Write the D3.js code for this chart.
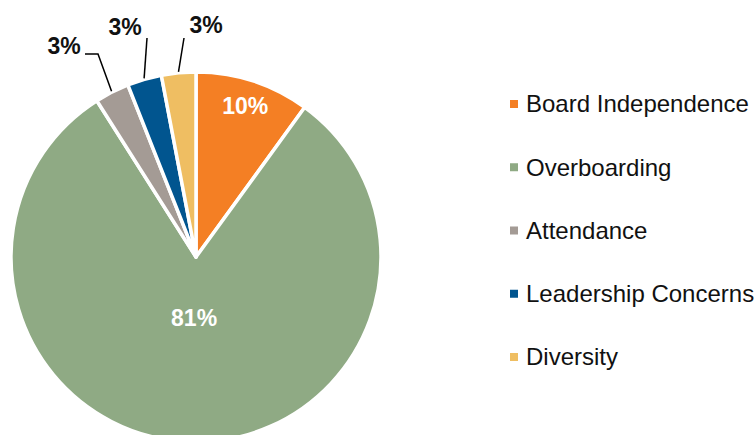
<html>
<head>
<script src="https://cdn.jsdelivr.net/npm/d3@7"></script>
<style>
body { margin: 0; background: #fff; font-family: "Liberation Sans", Arial, sans-serif; }
</style>
</head>
<body>
<script>
var categories = ["Board Independence", "Overboarding", "Attendance", "Leadership Concerns", "Diversity"];
var values = [10, 81, 3, 3, 3];
var labels = ["10%", "81%", "3%", "3%", "3%"];
var colors = ["#f47f24", "#8faa84", "#a49b95", "#01558f", "#efbe62"];

var w = 756, h = 435,
    cx = 196, cy = 257, r = 185;

var svg = d3.select("body").append("svg")
    .attr("width", w)
    .attr("height", h);

var pie = d3.pie().sort(null).value(function(d) { return d; });
var arcs = pie(values);
var arc = d3.arc().innerRadius(0).outerRadius(r);

var g = svg.append("g").attr("transform", "translate(" + cx + "," + cy + ")");

g.selectAll("path.slice")
    .data(arcs)
  .enter().append("path")
    .attr("class", "slice")
    .attr("d", arc)
    .attr("fill", function(d, i) { return colors[i]; })
    .attr("stroke", "#fff")
    .attr("stroke-width", 3.5)
    .attr("stroke-linejoin", "round");

// inside labels for the two big slices
arcs.forEach(function(d, i) {
  if (values[i] < 5) return;
  var a = (d.startAngle + d.endAngle) / 2;
  var rr = i === 0 ? r * 0.86 : r * 0.33;
  g.append("text")
      .attr("x", Math.sin(a) * rr)
      .attr("y", -Math.cos(a) * rr)
      .attr("dy", "0.35em")
      .attr("text-anchor", "middle")
      .attr("fill", "#fff")
      .attr("font-weight", "bold")
      .attr("font-size", 23)
      .text(labels[i]);
});

// outside labels with leader lines for small slices
var outside = [
  {i: 2, elbow: [-98, -203], end: [-111, -203], tx: -132, ty: -211},
  {i: 3, elbow: [-49, -219], end: null, tx: -71, ty: -230},
  {i: 4, elbow: [-12, -219], end: null, tx: 10, ty: -232}
];
outside.forEach(function(o) {
  var d = arcs[o.i];
  var a = (d.startAngle + d.endAngle) / 2;
  var pts = [[Math.sin(a) * (r + 1), -Math.cos(a) * (r + 1)], o.elbow];
  if (o.end) pts.push(o.end);
  g.append("path")
      .attr("d", d3.line()(pts))
      .attr("fill", "none")
      .attr("stroke", "#000")
      .attr("stroke-width", 1.5);
  g.append("text")
      .attr("x", o.tx)
      .attr("y", o.ty)
      .attr("dy", "0.35em")
      .attr("text-anchor", "middle")
      .attr("fill", "#111")
      .attr("font-weight", "bold")
      .attr("font-size", 23)
      .text(labels[o.i]);
});

// legend
var ly = d3.scalePoint().domain(categories).range([104, 357]);
var legend = svg.selectAll("g.legend")
    .data(categories)
  .enter().append("g")
    .attr("class", "legend")
    .attr("transform", function(d) { return "translate(510," + ly(d) + ")"; });

legend.append("rect")
    .attr("x", 0)
    .attr("y", -4)
    .attr("width", 8)
    .attr("height", 8)
    .attr("fill", function(d, i) { return colors[i]; });

legend.append("text")
    .attr("x", 16)
    .attr("dy", "0.35em")
    .attr("fill", "#111")
    .attr("font-size", 24)
    .text(function(d) { return d; });
</script>
</body>
</html>
